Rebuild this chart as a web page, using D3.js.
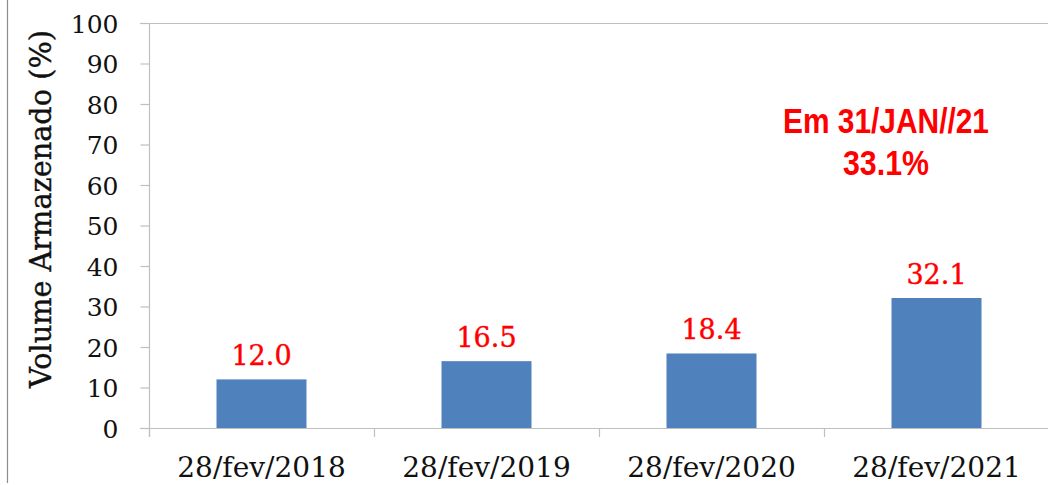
<!DOCTYPE html>
<html>
<head>
<meta charset="utf-8">
<script src="https://cdn.jsdelivr.net/npm/d3@7"></script>
<style>
  html, body { margin: 0; padding: 0; background: #fff; }
  svg { display: block; }
</style>
</head>
<body>
<svg id="chart" width="1048" height="485"></svg>
<script>
// Stored volume on 28 February of each year
const categories = ["28/fev/2018", "28/fev/2019", "28/fev/2020", "28/fev/2021"];
const values = [12.0, 16.5, 18.4, 32.1];
const yTicks = [0, 10, 20, 30, 40, 50, 60, 70, 80, 90, 100];
const yLabel = "Volume Armazenado (%)";
const noteLines = ["Em 31/JAN//21", "33.1%"];

const svg = d3.select("#chart");
const W = 1048, H = 485;
const plotLeft = 149, plotRight = 1049, plotTop = 23, plotBottom = 428;
const axisGray = "#bfbfbf";
const serif = "'DejaVu Serif', serif";

// Outer frame line on the left edge
svg.append("line")
  .attr("x1", 7.5).attr("x2", 7.5).attr("y1", 0).attr("y2", H - 2)
  .attr("stroke", "#8c8c8c").attr("stroke-width", 1.2);

const x = d3.scaleBand()
  .domain(categories)
  .range([plotLeft, plotRight])
  .paddingInner(0.6)
  .paddingOuter(0.3);

const y = d3.scaleLinear().domain([0, 100]).range([plotBottom, plotTop]);

// Top border line of the plot area
svg.append("line")
  .attr("x1", plotLeft - 9).attr("x2", W).attr("y1", y(100) + 0.5).attr("y2", y(100) + 0.5)
  .attr("stroke", axisGray).attr("stroke-width", 1.2);

// Y axis
const yAxis = svg.append("g")
  .attr("transform", `translate(${plotLeft + 0.5},0)`)
  .call(d3.axisLeft(y).tickValues(yTicks).tickSize(9).tickPadding(22).tickSizeOuter(0));
yAxis.select(".domain").attr("stroke", axisGray).attr("stroke-width", 1.2)
  .attr("d", `M0,${plotTop}V${plotBottom + 9}`);
yAxis.selectAll(".tick line").attr("stroke", axisGray).attr("stroke-width", 1.2);
yAxis.selectAll(".tick text")
  .attr("font-family", serif).attr("font-size", 25).attr("fill", "#111")
  .attr("dy", "0.36em");

// X axis baseline and category separators
svg.append("line")
  .attr("x1", plotLeft - 9).attr("x2", W).attr("y1", plotBottom + 0.5).attr("y2", plotBottom + 0.5)
  .attr("stroke", axisGray).attr("stroke-width", 1.2);
const step = x.step();
svg.append("g").selectAll("line")
  .data(d3.range(categories.length + 1))
  .join("line")
  .attr("x1", i => plotLeft + i * step + 0.5).attr("x2", i => plotLeft + i * step + 0.5)
  .attr("y1", plotBottom).attr("y2", plotBottom + 9)
  .attr("stroke", axisGray).attr("stroke-width", 1.2);

// Category labels
const xAxis = svg.append("g")
  .attr("transform", `translate(0,${plotBottom})`)
  .call(d3.axisBottom(x).tickSize(0).tickPadding(0));
xAxis.select(".domain").remove();
xAxis.selectAll(".tick text")
  .attr("font-family", serif).attr("font-size", 28).attr("fill", "#111")
  .attr("dy", 0).attr("y", 49);

// Bars
svg.append("g").selectAll("rect")
  .data(values)
  .join("rect")
  .attr("x", (d, i) => x(categories[i]))
  .attr("width", x.bandwidth())
  .attr("y", d => y(d))
  .attr("height", d => y(0) - y(d))
  .attr("fill", "#4f81bd");

// Value labels
svg.append("g").selectAll("text")
  .data(values)
  .join("text")
  .attr("x", (d, i) => x(categories[i]) + x.bandwidth() / 2)
  .attr("y", d => y(d) - 14)
  .attr("text-anchor", "middle")
  .attr("font-family", serif).attr("font-size", 27).attr("fill", "#ff0000")
  .attr("stroke", "#ff0000").attr("stroke-width", 0.4)
  .text(d => d.toFixed(1));

// Y axis title
svg.append("text")
  .attr("transform", `translate(51,209) rotate(-90)`)
  .attr("text-anchor", "middle")
  .attr("font-family", serif).attr("font-size", 29).attr("fill", "#111")
  .attr("stroke", "#111").attr("stroke-width", 0.4)
  .attr("textLength", 358).attr("lengthAdjust", "spacingAndGlyphs")
  .text(yLabel);

// Note on the latest reading
const note = svg.append("g").attr("font-family", "'Liberation Sans', Arial, sans-serif")
  .attr("font-weight", "bold").attr("fill", "#ff0000").attr("font-size", 35)
  .attr("text-anchor", "middle");
note.append("text").attr("x", 886).attr("y", 133)
  .attr("textLength", 206).attr("lengthAdjust", "spacingAndGlyphs").text(noteLines[0]);
note.append("text").attr("x", 886).attr("y", 175)
  .attr("textLength", 86).attr("lengthAdjust", "spacingAndGlyphs").text(noteLines[1]);
</script>
</body>
</html>
